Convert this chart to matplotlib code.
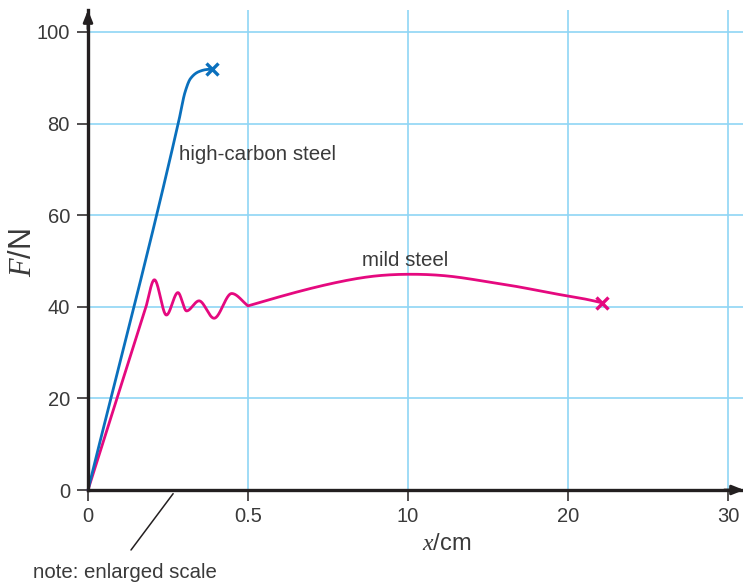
import numpy as np
import matplotlib
matplotlib.use("Agg")
import matplotlib.pyplot as plt

# ---- data -------------------------------------------------------------
# extension x (cm) and force F (N)
high_carbon_x = [0.0, 0.285, 0.303, 0.320, 0.345, 0.370, 0.389]
high_carbon_F = [0.0, 81.0, 86.8, 89.8, 91.3, 91.8, 91.9]

# mild steel: yield region (enlarged scale) and plastic region
mild_yield_x = [0.0, 0.180, 0.2075, 0.245, 0.281, 0.308, 0.347, 0.394, 0.449, 0.50]
mild_yield_F = [0.0, 39.7, 45.9, 38.2, 43.1, 39.1, 41.3, 37.5, 42.9, 40.2]
mild_plastic_x = [0.50, 2.0, 4.0, 6.0, 8.0, 10.0, 12.8, 14.9, 17.0, 19.1, 21.2, 22.1]
mild_plastic_F = [40.2, 41.8, 43.8, 45.5, 46.7, 47.1, 46.6, 45.5, 44.3, 42.9, 41.6, 40.9]

x_ticks = [0, 0.5, 10, 20, 30]
x_tick_labels = ["0", "0.5", "10", "20", "30"]
y_ticks = [0, 20, 40, 60, 80, 100]

# ---- piecewise axis: 0-0.5 enlarged, then 0.5-10, then linear ----------
_xb = np.array([-100.0, 0.0, 0.5, 10.0, 1000.0])
_ub = np.array([-200.0, 0.0, 1.0, 2.0, 101.0])


def fwd(x):
    return np.interp(np.asarray(x, dtype=float), _xb, _ub)


def inv(u):
    return np.interp(np.asarray(u, dtype=float), _ub, _xb)


def pchip(xk, yk, xs):
    """Monotone cubic Hermite curve through the knots."""
    xk = np.asarray(xk, float)
    yk = np.asarray(yk, float)
    h = np.diff(xk)
    d = np.diff(yk) / h
    n = len(xk)
    m = np.zeros(n)
    m[0], m[-1] = d[0], d[-1]
    for k in range(1, n - 1):
        if d[k - 1] * d[k] > 0:
            w1 = 2 * h[k] + h[k - 1]
            w2 = h[k] + 2 * h[k - 1]
            m[k] = (w1 + w2) / (w1 / d[k - 1] + w2 / d[k])
    idx = np.clip(np.searchsorted(xk, xs) - 1, 0, n - 2)
    t = (xs - xk[idx]) / h[idx]
    h00 = 2 * t**3 - 3 * t**2 + 1
    h10 = t**3 - 2 * t**2 + t
    h01 = -2 * t**3 + 3 * t**2
    h11 = t**3 - t**2
    return (h00 * yk[idx] + h10 * h[idx] * m[idx]
            + h01 * yk[idx + 1] + h11 * h[idx] * m[idx + 1])


def natural_spline(xk, yk, xs):
    """Natural cubic spline through the knots."""
    xk = np.asarray(xk, float)
    yk = np.asarray(yk, float)
    n = len(xk)
    h = np.diff(xk)
    A = np.zeros((n, n))
    b = np.zeros(n)
    A[0, 0] = A[-1, -1] = 1.0
    for i in range(1, n - 1):
        A[i, i - 1] = h[i - 1]
        A[i, i] = 2 * (h[i - 1] + h[i])
        A[i, i + 1] = h[i]
        b[i] = 6 * ((yk[i + 1] - yk[i]) / h[i] - (yk[i] - yk[i - 1]) / h[i - 1])
    M = np.linalg.solve(A, b)
    idx = np.clip(np.searchsorted(xk, xs) - 1, 0, n - 2)
    x0, x1 = xk[idx], xk[idx + 1]
    hh = h[idx]
    a = (x1 - xs) / hh
    c = (xs - x0) / hh
    return (a * yk[idx] + c * yk[idx + 1]
            + ((a**3 - a) * M[idx] + (c**3 - c) * M[idx + 1]) * hh**2 / 6)


def smooth(xs, ys, method, n=600):
    u = fwd(xs)
    uu = np.linspace(u[0], u[-1], n)
    return inv(uu), method(u, ys, uu)


plt.rcParams["font.family"] = ["Liberation Sans", "DejaVu Sans"]
plt.rcParams["mathtext.fontset"] = "custom"
plt.rcParams["mathtext.it"] = "Liberation Serif:italic"
plt.rcParams["mathtext.rm"] = "Liberation Serif"

TEXT = "#3a3a3a"
AXC = "#231f20"
BLUE = "#0a70bd"
PINK = "#e5097f"
GRID = "#8fd5f5"

fig = plt.figure(figsize=(7.43, 5.83), dpi=100)
ax = fig.add_axes([88 / 743, 93 / 583, 656 / 743, 480 / 583])
ax.set_xscale("function", functions=(fwd, inv))
ax.set_xlim(0, inv(4.1))
ax.set_ylim(0, 104.8)

ax.grid(True, color=GRID, lw=1.2, zorder=0)
ax.set_axisbelow(True)

ax.set_xticks(x_ticks)
ax.set_xticklabels(x_tick_labels)
ax.set_yticks(y_ticks)
ax.tick_params(axis="both", direction="out", length=8, width=1.1, color=AXC,
               labelsize=14.5, labelcolor=TEXT)
ax.tick_params(axis="y", pad=5)
ax.tick_params(axis="x", pad=4)

for s in ("top", "right"):
    ax.spines[s].set_visible(False)
for s in ("left", "bottom"):
    ax.spines[s].set_color(AXC)
    ax.spines[s].set_linewidth(2.4)
    ax.spines[s].set_zorder(5)

# arrow heads at the ends of the axes
ax.annotate("", xy=(1.0, 0), xytext=(0.97, 0), xycoords="axes fraction",
            arrowprops=dict(arrowstyle="-|>,head_length=0.7,head_width=0.28",
                            color=AXC, lw=2.0, shrinkA=0, shrinkB=0),
            annotation_clip=False, zorder=6)
ax.annotate("", xy=(0, 1.0), xytext=(0, 0.96), xycoords="axes fraction",
            arrowprops=dict(arrowstyle="-|>,head_length=0.7,head_width=0.28",
                            color=AXC, lw=2.0, shrinkA=0, shrinkB=0),
            annotation_clip=False, zorder=6)

# curves
hx, hy = smooth(high_carbon_x, high_carbon_F, pchip)
ax.plot(hx, hy, color=BLUE, lw=2.0, solid_capstyle="round", zorder=4,
        clip_on=False)
ax.plot(high_carbon_x[-1], high_carbon_F[-1], marker="x", color=BLUE,
        ms=9, mew=2.4, zorder=4, clip_on=False)

yx, yy = smooth(mild_yield_x, mild_yield_F, pchip)
px, py = smooth(mild_plastic_x, mild_plastic_F, natural_spline)
ax.plot(np.concatenate([yx, px]), np.concatenate([yy, py]), color=PINK,
        lw=2.0, solid_capstyle="round", solid_joinstyle="round", zorder=3,
        clip_on=False)
ax.plot(mild_plastic_x[-1], mild_plastic_F[-1], marker="x", color=PINK,
        ms=9, mew=2.4, zorder=3, clip_on=False)

ax.text(0.284, 73.3, "high-carbon steel", fontsize=14.8, color=TEXT,
        ha="left", va="center")
ax.text(9.8, 50.0, "mild steel", fontsize=14.8, color=TEXT,
        ha="center", va="center")

ax.set_xlabel(r"$x$/cm", fontsize=17, color=TEXT)
ax.xaxis.label.set_verticalalignment("center")
ax.xaxis.set_label_coords((447 - 88) / 656, -(544 - 490) / 480)
ax.set_ylabel(r"$F$/N", fontsize=22, color=TEXT)
ax.yaxis.label.set_verticalalignment("center")
ax.yaxis.set_label_coords(-(88 - 23) / 656, (490 - 253) / 480)

# note about the enlarged part of the x-axis
ax.annotate("", xy=(0.266, -0.8), xycoords="data",
            xytext=(131, 583 - 550), textcoords="figure pixels",
            arrowprops=dict(arrowstyle="-", color=AXC, lw=1.1,
                            shrinkA=0, shrinkB=0),
            annotation_clip=False)
fig.text(33 / 743, (583 - 572) / 583, "note: enlarged scale", fontsize=14.7,
         color=TEXT, ha="left", va="center")

fig.savefig("out.png", dpi=100)
